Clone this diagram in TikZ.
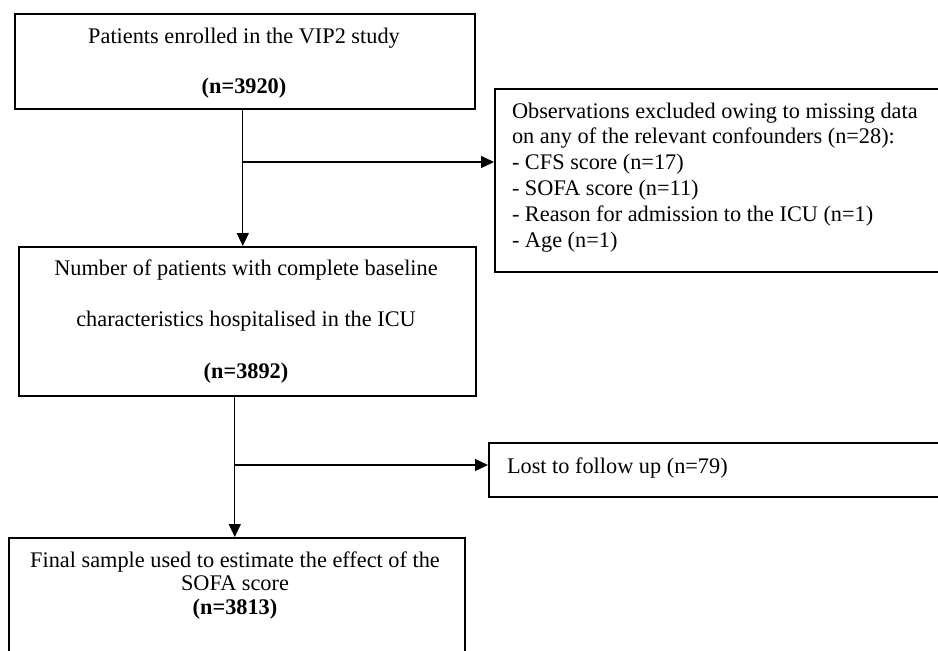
\documentclass[tikz,border=0pt]{standalone}
\usepackage{fontspec}
\setmainfont{Liberation Serif}
\usetikzlibrary{arrows.meta}
\tikzset{
  box/.style={draw, line width=1.6pt, anchor=north west, inner sep=0pt, fill=none},
  conn/.style={line width=1.3pt, -{Triangle[length=13pt,width=12pt]}},
  txt/.style={inner sep=0pt, outer sep=0pt},
}
\begin{document}
\begin{tikzpicture}[x=1pt,y=-1pt]
\useasboundingbox (0,0) rectangle (938,651);
\clip (0,0) rectangle (938,651);
% boxes
\node[box, minimum width=460pt, minimum height=95pt] (b1) at (14,13) {};
\node[box, minimum width=457pt, minimum height=149pt] (b2) at (18,246) {};
\node[box, minimum width=470pt, minimum height=183pt] (b3) at (494,88) {};
\node[box, minimum width=480pt, minimum height=54pt] (b5) at (488,442) {};
\node[box, minimum width=456pt, minimum height=140pt] (b4) at (8,537) {};
% texts (base anchor = baseline of the last line)
\node[txt, anchor=base, align=center, font=\fontsize{22.3}{50}\selectfont] (t1) at (244,93)
  {Patients enrolled in the VIP2 study\\\textbf{(n=3920)}};
\node[txt, anchor=base, align=center, font=\fontsize{22.3}{51.5}\selectfont] (t2) at (246,378)
  {Number of patients with complete baseline\\characteristics hospitalised in the ICU\\\textbf{(n=3892)}};
\node[txt, anchor=base west, align=left, font=\fontsize{22.3}{25.8}\selectfont] (t3) at (512,247)
  {Observations excluded owing to missing data\\on any of the relevant confounders (n=28):\\- CFS score (n=17)\\- SOFA score (n=11)\\- Reason for admission to the ICU (n=1)\\- Age (n=1)};
\node[txt, anchor=base west, font=\fontsize{22.3}{25.8}\selectfont] (t5) at (507,473)
  {Lost to follow up (n=79)};
\node[txt, anchor=base, align=center, font=\fontsize{22.3}{23.5}\selectfont] (t4) at (235,614)
  {Final sample used to estimate the effect of the\\SOFA score\\\textbf{(n=3813)}};
% connectors
\coordinate (s1) at ([xshift=-2pt]b1.south);
\draw[conn] (s1) -- (s1 |- b2.north);
\coordinate (j1) at (s1 |- 0,162);
\draw[conn] (j1) -- (j1 -| b3.west);
\coordinate (s2) at ([xshift=-12.5pt]b2.south);
\draw[conn] (s2) -- (s2 |- b4.north);
\coordinate (j2) at (s2 |- 0,465);
\draw[conn] (j2) -- (j2 -| b5.west);
\end{tikzpicture}
\end{document}
